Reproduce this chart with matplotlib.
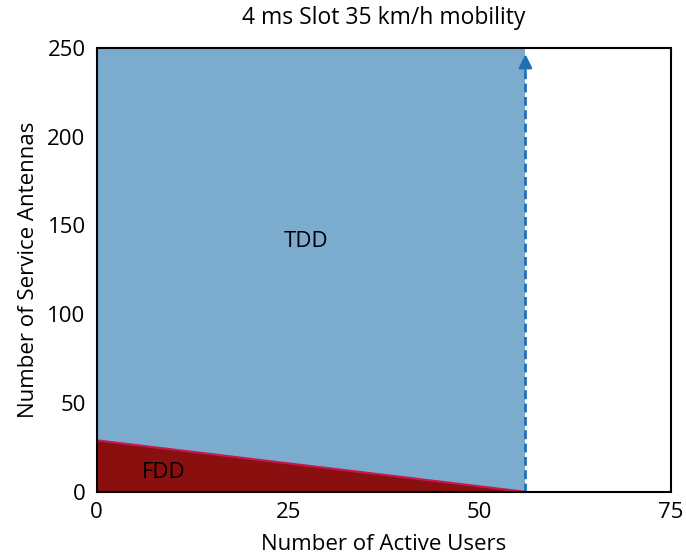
import numpy as np
import matplotlib.pyplot as plt

plt.rcParams['font.family'] = ['Open Sans', 'DejaVu Sans']

# region boundaries
max_users = 56          # TDD limit, number of active users
fdd_users = [0, 56]     # FDD boundary line, x
fdd_antennas = [29, 0]  # FDD boundary line, y
y_top = 250

x_ticks = [0, 25, 50, 75]
y_ticks = [0, 50, 100, 150, 200, 250]

fig = plt.figure(figsize=(6.86, 5.57), dpi=100)
ax = fig.add_axes([0.141, 0.117, 0.837, 0.797])

# TDD region
ax.fill_between([0, max_users], [y_top, y_top], 0, color='#7bacce', lw=0)
# FDD region
ax.fill_between(fdd_users, fdd_antennas, 0, color='#8a1010', lw=0)
ax.plot(fdd_users, fdd_antennas, color='#c8174f', lw=1.5)

# dashed limit with arrow
ax.plot([max_users, max_users], [0, y_top - 14], color='#1f6fb2', lw=2,
        linestyle=(0, (3.2, 1.6)))
ax.annotate('', xy=(max_users, y_top - 2), xytext=(max_users, y_top - 16),
            arrowprops=dict(arrowstyle='-|>', color='#1f6fb2', lw=1.8,
                            mutation_scale=20))

ax.text(27.3, 141, 'TDD', fontsize=16, ha='center', va='center')
ax.text(8.7, 11, 'FDD', fontsize=16, ha='center', va='center')

ax.set_xlim(0, 75)
ax.set_ylim(0, y_top)
ax.set_xticks(x_ticks)
ax.set_yticks(y_ticks)
ax.tick_params(axis='x', length=0, labelsize=16, pad=7)
ax.tick_params(axis='y', length=0, labelsize=16, pad=8)
ax.set_xlabel('Number of Active Users', fontsize=16, labelpad=8)
ax.set_ylabel('Number of Service Antennas', fontsize=16, labelpad=6)
ax.set_title('4 ms Slot 35 km/h mobility', fontsize=16.5, pad=17)

for spine in ax.spines.values():
    spine.set_linewidth(1.5)
    spine.set_zorder(5)

fig.savefig('out.png', dpi=100)
